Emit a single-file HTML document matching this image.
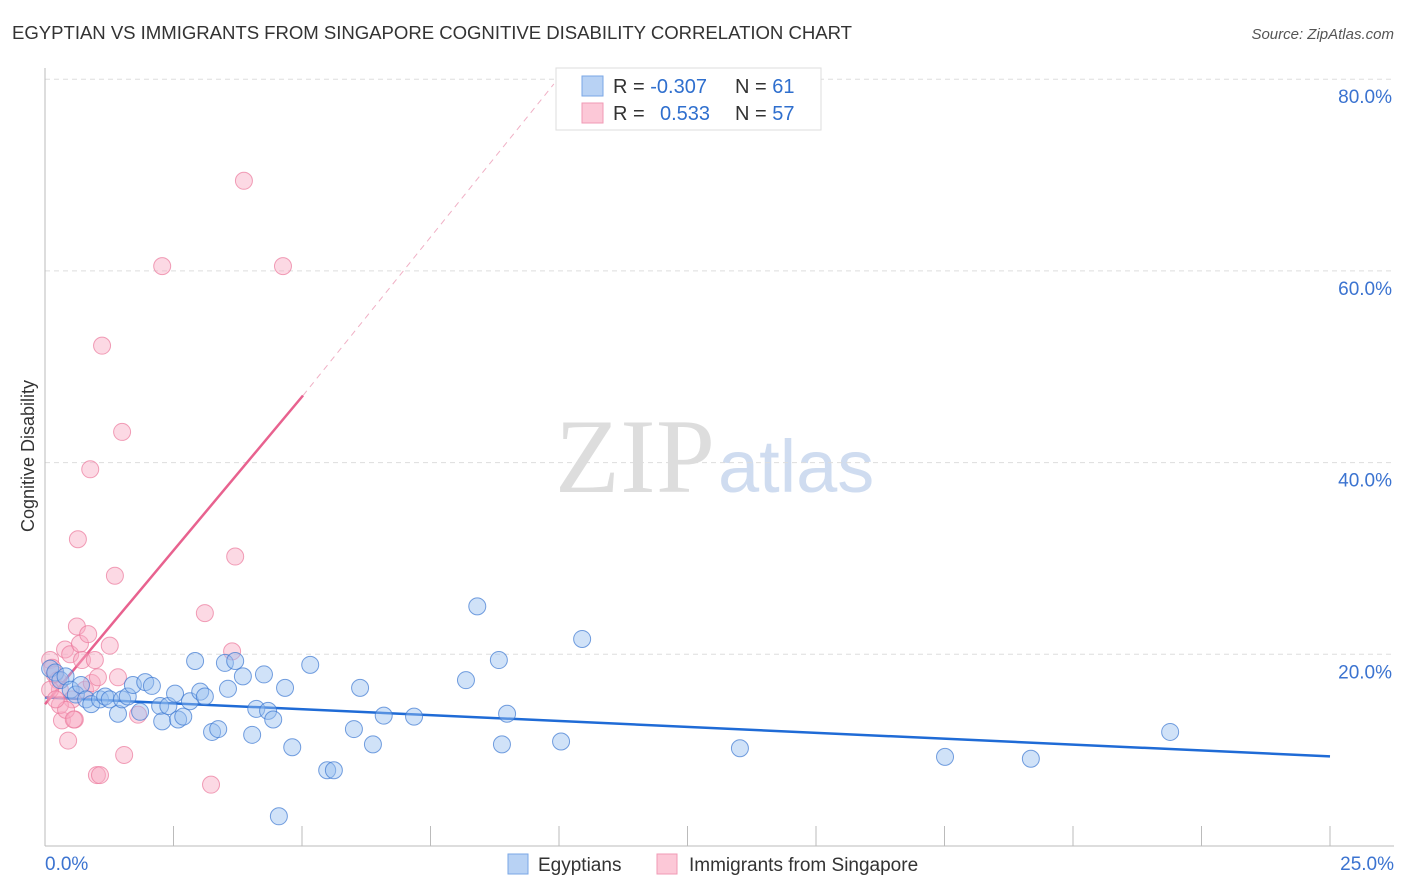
<!DOCTYPE html>
<html><head><meta charset="utf-8"><style>
body{margin:0;background:#fff;font-family:"Liberation Sans",sans-serif}
svg{display:block}
</style></head><body>
<svg id="chart" width="1406" height="892">
<text x="12" y="39" font-size="18.6" fill="#333" textLength="840">EGYPTIAN VS IMMIGRANTS FROM SINGAPORE COGNITIVE DISABILITY CORRELATION CHART</text>
<text x="1394" y="39" font-size="15" fill="#555" font-style="italic" text-anchor="end">Source: ZipAtlas.com</text>
<text x="34" y="456" font-size="18" fill="#333" text-anchor="middle" transform="rotate(-90 34 456)">Cognitive Disability</text>
<g><text x="555" y="492" font-size="106" font-family="Liberation Serif,serif" fill="#ddd" textLength="160">ZIP</text><text x="718" y="492" font-size="74" fill="#cfdcf0">atlas</text></g>
<g id="grid"></g><g id="lines"></g><g id="pts"></g>
<g>
<rect x="556" y="68" width="265" height="62" fill="#fff" stroke="#ddd"/>
<rect x="582" y="76" width="21" height="20" fill="#b8d2f4" stroke="#7aa7e6"/>
<rect x="582" y="103" width="21" height="20" fill="#fcc8d7" stroke="#f09ab4"/>
<text x="613" y="93" font-size="20" fill="#333">R = <tspan fill="#2f6fce">-0.307</tspan></text>
<text x="735" y="93" font-size="20" fill="#333">N = <tspan fill="#2f6fce"> 61</tspan></text>
<text x="613" y="120" font-size="20" fill="#333">R = <tspan fill="#2f6fce" x="660">0.533</tspan></text>
<text x="735" y="120" font-size="20" fill="#333">N = <tspan fill="#2f6fce">57</tspan></text>
</g>
<g>
<rect x="508" y="854" width="20" height="20" fill="#b8d2f4" stroke="#7aa7e6"/>
<text x="538" y="871" font-size="19" fill="#333">Egyptians</text>
<rect x="657" y="854" width="20" height="20" fill="#fcc8d7" stroke="#f09ab4"/>
<text x="689" y="871" font-size="19" fill="#333">Immigrants from Singapore</text>
</g>
</svg>
<script>
const xTicks=[0,2.5,5,7.5,10,12.5,15,17.5,20,22.5,25];
const yTicks=[20,40,60,80];
const blueX=[0.1,0.2,0.3,0.4,0.5,0.6,0.7,0.8,0.9,1.07,1.17,1.26,1.42,1.5,1.61,1.71,1.85,1.95,2.08,2.24,2.28,2.4,2.53,2.59,2.69,2.82,2.92,3.02,3.11,3.25,3.37,3.5,3.56,3.7,3.85,4.03,4.11,4.26,4.34,4.44,4.67,4.81,4.55,5.16,5.49,5.62,6.01,6.13,6.38,6.59,7.18,8.19,8.41,8.83,8.89,8.99,10.04,10.45,13.52,17.51,19.18,21.89];
const blueY=[18.5,18.1,17.3,17.7,16.3,15.8,16.8,15.3,14.8,15.3,15.6,15.3,13.8,15.3,15.6,16.8,14.0,17.1,16.7,14.6,13.0,14.6,15.9,13.2,13.5,15.1,19.3,16.1,15.6,11.9,12.2,19.1,16.4,19.3,17.7,11.6,14.3,17.9,14.1,13.2,16.5,10.3,3.1,18.9,7.9,7.9,12.2,16.5,10.6,13.6,13.5,17.3,25.0,19.4,10.6,13.8,10.9,21.6,10.2,9.3,9.1,11.9];
const pinkX=[0.1,0.14,0.19,0.25,0.29,0.33,0.39,0.45,0.49,0.53,0.58,0.62,0.64,0.68,0.72,0.78,0.84,0.88,0.91,0.97,1.01,1.07,1.03,1.11,1.26,1.36,1.42,1.5,1.54,1.81,2.28,3.11,3.23,3.64,3.7,3.87,4.63,0.29,0.41,0.56,0.1,0.21];
const pinkY=[19.4,18.6,17.9,17.3,16.3,13.1,20.5,11.0,20.0,15.3,13.2,22.9,32.0,21.1,19.4,16.3,22.1,39.3,17.0,19.4,7.4,7.4,17.6,52.2,20.9,28.2,17.6,43.2,9.5,13.7,60.5,24.3,6.4,20.3,30.2,69.4,60.5,14.7,14.2,13.2,16.3,15.3];
const X=v=>45+v*51.4, Y=v=>846-v*9.585;
const NS='http://www.w3.org/2000/svg';
function mk(tag,attrs,parent){const e=document.createElementNS(NS,tag);for(const k in attrs)e.setAttribute(k,attrs[k]);parent.appendChild(e);return e;}
const grid=document.getElementById('grid');
for(const t of yTicks){
 const l=mk('line',{x1:45,x2:1394,y1:Y(t),y2:Y(t),stroke:'#ddd','stroke-dasharray':'5,4'},grid);
 
 
 const tx=mk('text',{x:1392,y:Y(t)+24,'font-size':19,fill:'#3b73d0','text-anchor':'end'},grid);
 tx.textContent=t.toFixed(1)+'%';
 
 
}
mk('line',{x1:45,x2:45,y1:68,y2:846,stroke:'#bbb'},grid);
mk('line',{x1:45,x2:1394,y1:846,y2:846,stroke:'#bbb'},grid);
for(const t of xTicks){
 const l=mk('line',{x1:X(t),x2:X(t),y1:826,y2:846,stroke:'#bbb'},grid);
 
 
}
let a=mk('text',{x:45,y:870,'font-size':19,fill:'#3b73d0'},grid);a.textContent='0.0%';


a=mk('text',{x:1394,y:870,'font-size':19,fill:'#3b73d0','text-anchor':'end'},grid);a.textContent='25.0%';


const pts=document.getElementById('pts');
pinkX.forEach((v,i)=>{const c=mk('circle',{cx:X(v),cy:Y(pinkY[i]),r:8.5,fill:'rgba(248,170,195,0.45)',stroke:'rgba(235,120,155,0.7)','stroke-width':1},pts);
 
 });
blueX.forEach((v,i)=>{const c=mk('circle',{cx:X(v),cy:Y(blueY[i]),r:8.5,fill:'rgba(150,190,240,0.45)',stroke:'rgba(60,120,210,0.7)','stroke-width':1},pts);
 
 });
const lines=document.getElementById('lines');
let ln=mk('line',{x1:X(0),y1:Y(15.5),x2:X(25),y2:Y(9.35),stroke:'#1f6bd6','stroke-width':2.5},lines);


ln=mk('line',{x1:X(0),y1:Y(14.8),x2:X(5.02),y2:Y(47.0),stroke:'#e8628f','stroke-width':2.5},lines);


ln=mk('line',{x1:X(5.02),y1:Y(47.0),x2:X(9.9),y2:Y(79.5),stroke:'#f0b0c5','stroke-width':1,'stroke-dasharray':'6,5'},lines);


</script>
</body></html>
